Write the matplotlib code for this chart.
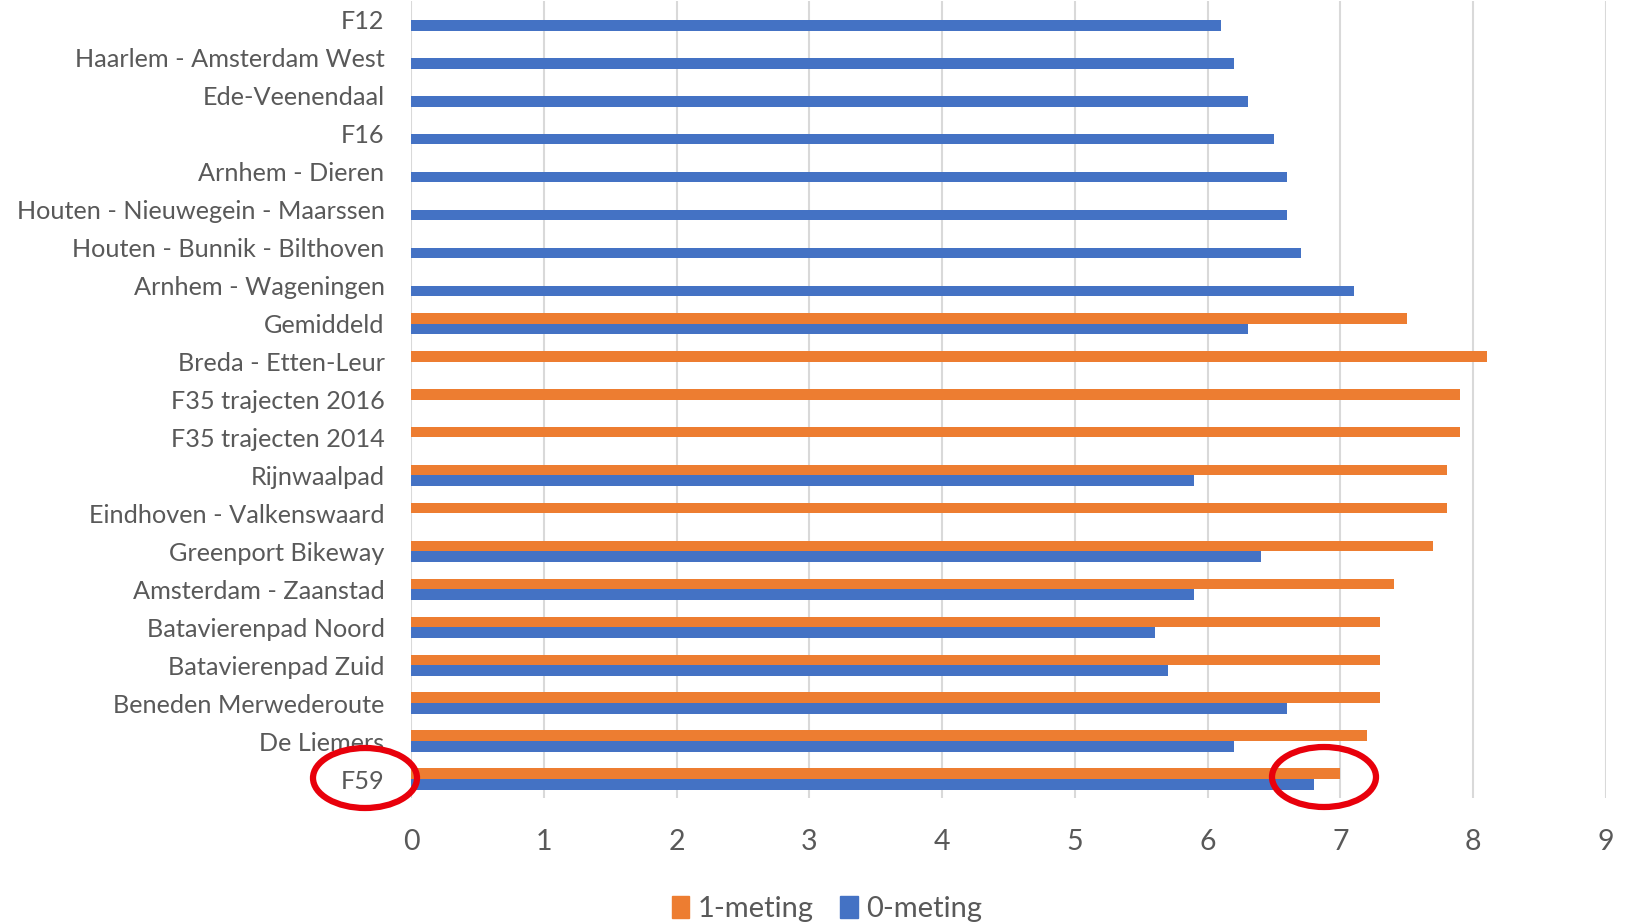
import numpy as np
import matplotlib
matplotlib.use('Agg')
import matplotlib.pyplot as plt
from matplotlib.patches import Ellipse, Patch

# data, listed top to bottom as in the chart
categories = ['F12', 'Haarlem - Amsterdam West', 'Ede-Veenendaal', 'F16',
              'Arnhem - Dieren', 'Houten - Nieuwegein - Maarssen',
              'Houten - Bunnik - Bilthoven', 'Arnhem - Wageningen', 'Gemiddeld',
              'Breda - Etten-Leur', 'F35 trajecten 2016', 'F35 trajecten 2014',
              'Rijnwaalpad', 'Eindhoven - Valkenswaard', 'Greenport Bikeway',
              'Amsterdam - Zaanstad', 'Batavierenpad Noord', 'Batavierenpad Zuid',
              'Beneden Merwederoute', 'De Liemers', 'F59']
meting1 = [np.nan, np.nan, np.nan, np.nan, np.nan, np.nan, np.nan, np.nan, 7.5,
           8.1, 7.9, 7.9, 7.8, 7.8, 7.7, 7.4, 7.3, 7.3, 7.3, 7.2, 7.0]
meting0 = [6.1, 6.2, 6.3, 6.5, 6.6, 6.6, 6.7, 7.1, 6.3,
           np.nan, np.nan, np.nan, 5.9, np.nan, 6.4, 5.9, 5.6, 5.7, 6.6, 6.2, 6.8]
xticks = list(range(0, 10))

ORANGE = '#ED7D31'
BLUE = '#4472C4'
TXT = '#595959'

plt.rcParams['font.family'] = ['Lato', 'DejaVu Sans']

W, H = 1627, 923
fig = plt.figure(figsize=(W / 100, H / 100), dpi=100)
ax = fig.add_axes([411 / W, 1 - 798 / H, (1606 - 411) / W, (798 - 1) / H])

n = len(categories)
y = np.arange(n)[::-1]  # first category at top
bh = 0.28
ax.barh(y + bh / 2, meting1, height=bh, color=ORANGE, label='1-meting', zorder=3)
ax.barh(y - bh / 2, meting0, height=bh, color=BLUE, label='0-meting', zorder=3)

ax.set_xlim(0, 9)
ax.set_ylim(-0.5, n - 0.5)
ax.set_xticks(xticks)
ax.set_yticks(y)
ax.set_yticklabels(categories)
ax.tick_params(axis='y', length=0, pad=19, labelsize=18.2, labelcolor=TXT)
ax.tick_params(axis='x', length=0, pad=22, labelsize=20.5, labelcolor=TXT)
ax.grid(axis='x', color='#D9D9D9', linewidth=1.5, zorder=0)
for s in ax.spines.values():
    s.set_visible(False)

handles = [Patch(color=ORANGE, label='1-meting'), Patch(color=BLUE, label='0-meting')]
fig.legend(handles=handles, loc='center', bbox_to_anchor=(827 / W, 1 - 909 / H),
           ncol=2, frameon=False, fontsize=21, labelcolor=TXT,
           handlelength=0.6, handleheight=0.8, handletextpad=0.3, columnspacing=0.9)

# red annotation circles
for cx, cy in [(365, 778), (1324, 777)]:
    fig.add_artist(Ellipse((cx / W, 1 - cy / H), 104 / W, 60 / H,
                           transform=fig.transFigure, fill=False,
                           edgecolor='#E8000B', linewidth=4.5, zorder=10))

fig.savefig('out.png', dpi=100)
